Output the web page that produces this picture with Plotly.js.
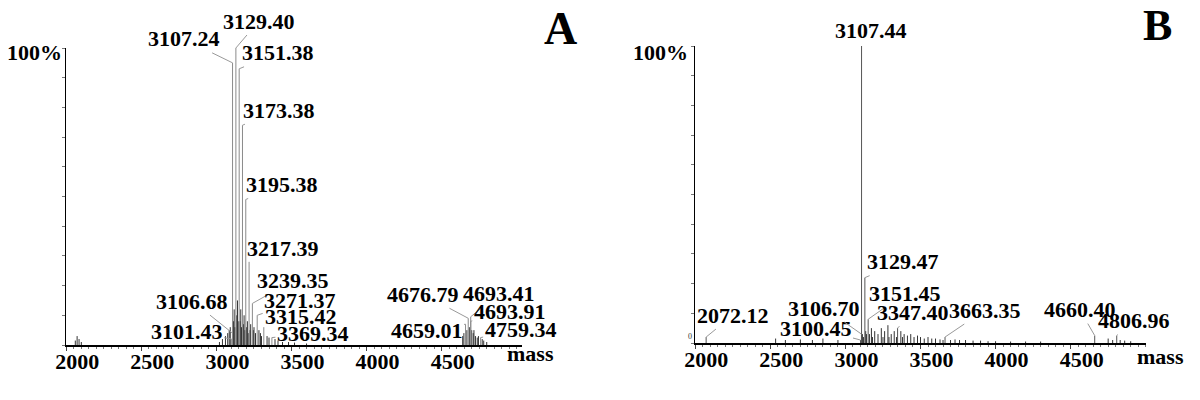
<!DOCTYPE html>
<html>
<head>
<meta charset="utf-8">
<script src="https://cdn.plot.ly/plotly-3.0.1.min.js"></script>
<style>
  html, body { margin: 0; padding: 0; background: #fff; }
  #chart { width: 1200px; height: 400px; }
</style>
</head>
<body>
<div id="chart"></div>
<script>
// Panel A - labelled peaks (mass, relative intensity %)
const peakMassA = [3101.43, 3106.68, 3107.24, 3129.40, 3151.38, 3173.38, 3195.38, 3217.39,
                   3239.35, 3271.37, 3315.42, 3369.34, 4659.01, 4676.79, 4693.41, 4693.91, 4759.34];
const peakIntA  = [2, 4, 95, 100, 93, 74, 49, 28, 14, 10, 6, 2.5, 7, 9, 9.5, 8, 2.5];

// Panel A - unlabelled small peaks
const minorMassA = [2060, 2072, 2085, 2100, 3020, 3040, 3060, 3075, 3085, 3092, 3113, 3118, 3123,
                    3135, 3140, 3145, 3157, 3162, 3167, 3179, 3184, 3190, 3201, 3206, 3212, 3223,
                    3228, 3245, 3250, 3260, 3283, 3293, 3300, 3337, 3350, 3390, 3410, 3440, 3480,
                    3520, 3600, 4640, 4648, 4668, 4684, 4700, 4710, 4715, 4725, 4737, 4745, 4770,
                    4780, 4800];
const minorIntA  = [1.5, 3, 2, 1, 1, 2, 3, 4, 5, 6, 8, 12, 6, 10, 15, 8, 8, 12, 6, 7, 10, 5, 6, 8,
                    4, 5, 7, 5, 6, 4, 5, 4, 3, 3, 2.5, 2, 1.5, 1, 1, 0.8, 0.5, 3, 4, 5, 6, 5, 4, 5,
                    3, 2.5, 3, 2, 1.5, 1];

// Panel B - labelled peaks
const peakMassB = [2072.12, 3100.45, 3106.70, 3107.44, 3129.47, 3151.45, 3347.40, 3663.35, 4660.40, 4806.96];
const peakIntB  = [2, 1, 3, 100, 22, 8, 5, 2, 2.5, 2.5];

// Panel B - unlabelled small peaks
const minorMassB = [2535, 2600, 2700, 2780, 2850, 2950, 3113, 3120, 3135, 3140, 3160, 3173, 3180,
                    3195, 3217, 3239, 3250, 3261, 3283, 3290, 3305, 3325, 3340, 3369, 3380, 3391,
                    3413, 3435, 3457, 3480, 3500, 3525, 3550, 3575, 3600, 3630, 3650, 3700, 3730,
                    3760, 3800, 3850, 3900, 3950, 4000, 4100, 4200, 4300, 4750, 4780, 4830, 4860, 4900];
const minorIntB  = [1.5, 1, 1.2, 1, 1.5, 1, 3, 2, 4, 3, 3, 5, 2, 4, 3, 5, 2, 4, 6, 2, 3, 4, 2, 4,
                    2, 3, 2.5, 3, 2, 2.5, 2, 1.5, 2, 1.5, 1.5, 1.2, 1, 1, 1.2, 1, 1, 0.8, 0.8, 0.6,
                    0.6, 0.5, 0.5, 0.5, 1.5, 1, 1, 0.8, 0.6];

const tickVals = [2000, 2500, 3000, 3500, 4000, 4500];
const tickText = ['2000', '2500', '3000', '3500', '4000', '4500'];

// stick spectrum: one vertical segment per peak
function sticks(mass, inten) {
    const x = [], y = [];
    mass.forEach((m, i) => { x.push(m, m, null); y.push(0, inten[i], null); });
    return {x, y};
}

const serif = 'Liberation Serif, Times New Roman, serif';
const labelFont = {family: serif, size: 22, color: '#000', weight: 700};

function stickTrace(mass, inten, xa, ya, color) {
    const s = sticks(mass, inten);
    return {x: s.x, y: s.y, xaxis: xa, yaxis: ya, type: 'scatter', mode: 'lines',
            line: {color: color, width: 1}, hoverinfo: 'skip', showlegend: false};
}

const traces = [
    stickTrace(minorMassA, minorIntA, 'x', 'y', '#333'),
    stickTrace(peakMassA, peakIntA, 'x', 'y', '#8a8a8a'),
    stickTrace(minorMassB, minorIntB, 'x2', 'y2', '#333'),
    stickTrace(peakMassB, peakIntB, 'x2', 'y2', '#555')
];

// label offsets in pixels (text centre relative to peak top)
const offA = [[-45, -8], [-40, -32], [-49, -24], [23, -27], [39, -16], [37, -15], [36, -15], [34, -13],
              [41, -23], [43, -15], [37, -11], [41, -4], [-39, 6], [-45, -24], [28, -23], [39, -10], [40, -8]];
const offB = [[27, -22], [-45, -12], [-37, -26], null, [38, -16], [37, -26], [15, -16], [40, -27], [-15, -26], [17, -15]];

const annotations = [];
peakMassA.forEach((m, i) => {
    annotations.push({x: m, y: peakIntA[i], xref: 'x', yref: 'y', text: m.toFixed(2),
        showarrow: true, ax: offA[i][0], ay: offA[i][1], arrowhead: 0, arrowwidth: 1,
        arrowcolor: '#999', standoff: 0, font: labelFont});
});
peakMassB.forEach((m, i) => {
    if (offB[i] === null) {
        annotations.push({x: m, y: peakIntB[i], xref: 'x2', yref: 'y2', text: m.toFixed(2),
            showarrow: false, yanchor: 'bottom', xshift: 9, yshift: 1, font: labelFont});
    } else {
        annotations.push({x: m, y: peakIntB[i], xref: 'x2', yref: 'y2', text: m.toFixed(2),
            showarrow: true, ax: offB[i][0], ay: offB[i][1], arrowhead: 0, arrowwidth: 1,
            arrowcolor: '#999', standoff: 0, font: labelFont});
    }
});

function paperText(text, px, py, size) {
    return {xref: 'paper', yref: 'paper', x: px / 1200, y: 1 - py / 400, text: text,
            showarrow: false, xanchor: 'center', yanchor: 'middle',
            font: {family: serif, size: size, color: '#000', weight: 700}};
}
annotations.push(paperText('100%', 34, 52, 22));
annotations.push(paperText('100%', 660, 52, 22));
annotations.push(paperText('mass', 530, 353, 22));
annotations.push(paperText('mass', 1160, 356, 22));
annotations.push(paperText('A', 560, 28, 46));
annotations.push(paperText('B', 1157, 25, 44));
annotations.push({xref: 'paper', yref: 'paper', x: 690 / 1200, y: 1 - 343 / 400, text: '0',
    showarrow: false, font: {family: serif, size: 8, color: '#333'}});

function xAxis(domain, range, anchor) {
    return {domain: domain, range: range, anchor: anchor, showgrid: false, zeroline: false,
            showline: true, linecolor: '#000', linewidth: 1.5,
            tickmode: 'array', tickvals: tickVals, ticktext: tickText,
            ticks: 'outside', ticklen: 4, tickcolor: '#444', ticklabelshift: 11, ticklabelstandoff: -8,
            minor: {ticks: 'outside', dtick: 50, ticklen: 2, tickcolor: '#777'},
            tickfont: labelFont, fixedrange: true};
}
function yAxis(domain, anchor) {
    return {domain: domain, range: [0, 100], anchor: anchor, showgrid: false, zeroline: false,
            showline: true, linecolor: '#000', linewidth: 1.5,
            ticks: 'outside', ticklen: 3, dtick: 10, tickcolor: '#777',
            showticklabels: false, fixedrange: true};
}

const layout = {
    width: 1200, height: 400,
    margin: {l: 0, r: 0, t: 0, b: 0},
    paper_bgcolor: '#fff', plot_bgcolor: '#fff',
    showlegend: false,
    xaxis:  xAxis([66 / 1200, 522 / 1200], [1998, 5035], 'y'),
    yaxis:  yAxis([55 / 400, 352 / 400], 'x'),
    xaxis2: xAxis([695 / 1200, 1146 / 1200], [1998, 5002], 'y2'),
    yaxis2: yAxis([57 / 400, 354 / 400], 'x2'),
    annotations: annotations
};

Plotly.newPlot('chart', traces, layout, {staticPlot: true});
</script>
</body>
</html>
